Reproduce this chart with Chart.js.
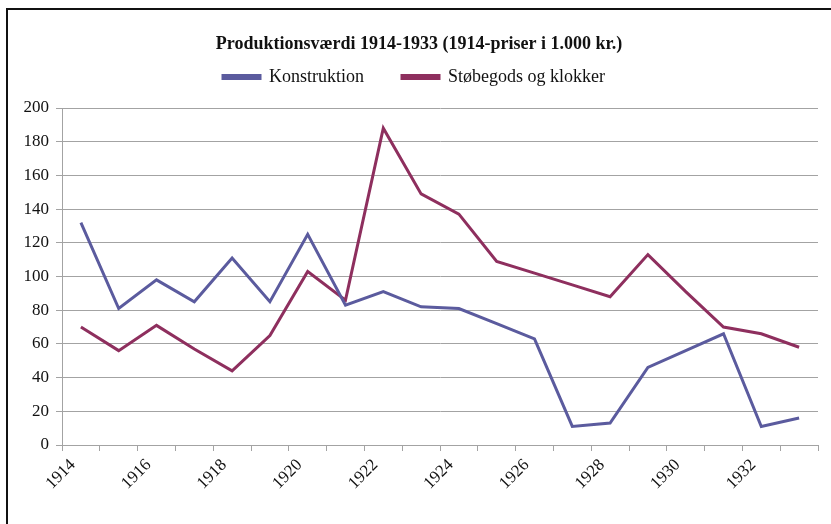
<!DOCTYPE html>
<html><head><meta charset="utf-8">
<script src="https://cdn.jsdelivr.net/npm/chart.js@4/dist/chart.umd.min.js"></script>
<style>
html,body{margin:0;padding:0;background:#fff;overflow:hidden;}
#wrap{position:absolute;left:0;top:0;width:831px;height:524px;}
#frame{position:absolute;left:6px;top:8px;width:900px;height:600px;border:2px solid #111;box-sizing:border-box;pointer-events:none;}
canvas{position:absolute;left:0;top:0;}
</style></head>
<body>
<div id="wrap"><div id="frame"></div><canvas id="c" width="831" height="524"></canvas></div>
<script>
const years = ['1914','1915','1916','1917','1918','1919','1920','1921','1922','1923','1924','1925','1926','1927','1928','1929','1930','1931','1932','1933'];
const konstruktion = [132,81,98,85,111,85,125,83,91,82,81,72,63,11,13,46,56,66,11,16];
const stobegods = [70,56,71,57,44,65,103,86,188,149,137,109,102,95,88,113,91,70,66,58];
const yTicks = [0,20,40,60,80,100,120,140,160,180,200];
const titleText = 'Produktionsværdi 1914-1933 (1914-priser i 1.000 kr.)';
const seriesNames = ['Konstruktion','Støbegods og klokker'];

const serif = "'Liberation Serif','DejaVu Serif',serif";
const blue = '#5B5B9E', red = '#8E2F5E', grid = '#A3A3A3';

const shiftBoxes = {
  id: 'shiftBoxes',
  afterLayout(chart) {
    if (chart.titleBlock) { chart.titleBlock.left += 10; chart.titleBlock.right += 10; }
    if (chart.legend) { chart.legend.left += 5; chart.legend.right += 5; }
  }
};

new Chart(document.getElementById('c'), {
  type: 'line',
  data: {
    labels: years,
    datasets: [
      {label: seriesNames[0], data: konstruktion, borderColor: blue, backgroundColor: blue, borderWidth: 3, pointRadius: 0, tension: 0},
      {label: seriesNames[1], data: stobegods, borderColor: red, backgroundColor: red, borderWidth: 3, pointRadius: 0, tension: 0}
    ]
  },
  plugins: [shiftBoxes],
  options: {
    responsive: false,
    animation: false,
    devicePixelRatio: 1,
    layout: {padding: {top: 0, left: 0, right: 13, bottom: 0}},
    plugins: {
      tooltip: {enabled: false},
      title: {display: true, text: titleText, color: '#111',
        font: {family: serif, size: 18, weight: 'bold'}, padding: {top: 34, bottom: -25.6}},
      subtitle: {display: true, text: '', weight: 500, font: {size: 12, lineHeight: 1}, padding: 0},
      legend: {display: true, position: 'top',
        labels: {color: '#111', font: {family: serif, size: 18}, boxWidth: 37, boxHeight: 3, padding: 38}}
    },
    scales: {
      x: {
        offset: true,
        grid: {display: true, offset: true, drawOnChartArea: false, drawTicks: true, tickLength: 6, color: grid, lineWidth: 1},
        border: {display: true, color: grid, width: 1},
        ticks: {autoSkip: false, maxRotation: 45, minRotation: 45, color: '#111', padding: 4, labelOffset: -8,
          font: {family: serif, size: 17},
          callback: function(v, i){ return i % 2 === 0 ? years[i] : ''; }},
        afterFit: function(s){ s.height = 79; }
      },
      y: {
        min: 0, max: 200,
        afterBuildTicks: function(s){ s.ticks = yTicks.map(v => ({value: v})); },
        grid: {color: grid, lineWidth: 1, drawTicks: true, tickLength: 6},
        border: {display: true, color: grid, width: 1},
        ticks: {color: '#111', padding: 7, font: {family: serif, size: 17}},
        afterFit: function(s){ s.width = 62; }
      }
    }
  }
});
</script>
</body></html>
